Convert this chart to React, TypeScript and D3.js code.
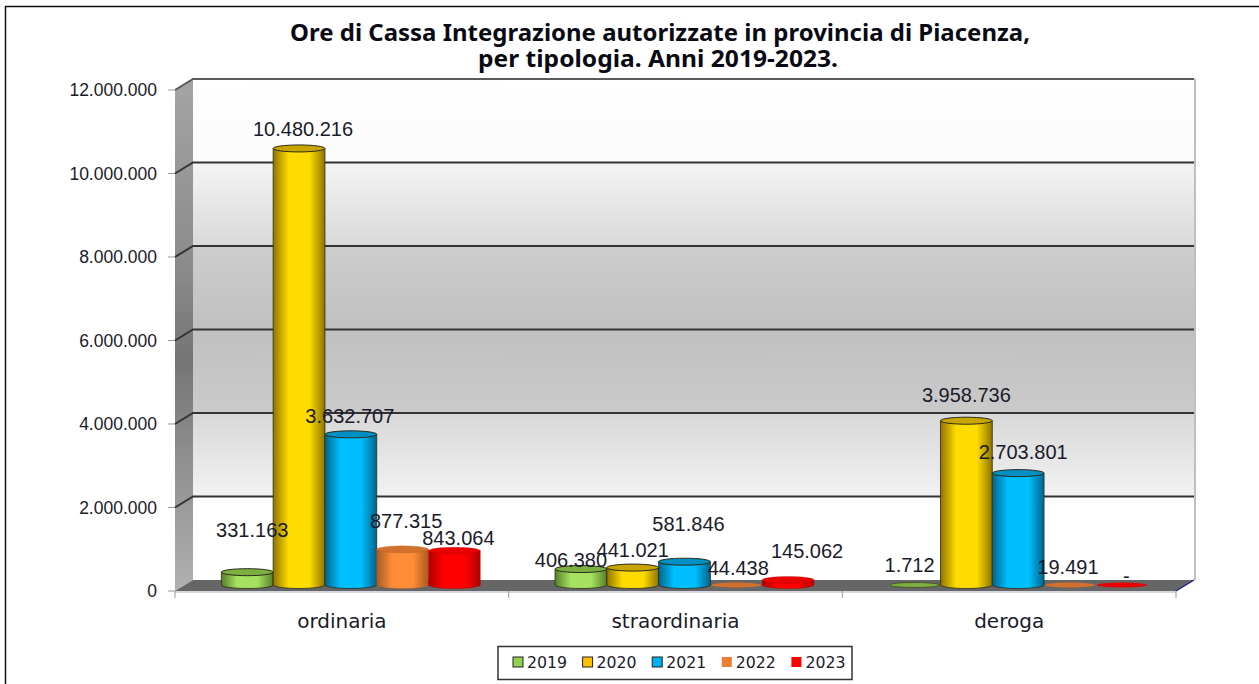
import React from 'react';
import * as d3 from 'd3';

const categories = ['ordinaria', 'straordinaria', 'deroga'];
const years = ['2019', '2020', '2021', '2022', '2023'];
const s2019 = [331163, 406380, 1712];
const s2020 = [10480216, 441021, 3958736];
const s2021 = [3632707, 581846, 2703801];
const s2022 = [877315, 44438, 19491];
const s2023 = [843064, 145062, 0];
const seriesValues = [s2019, s2020, s2021, s2022, s2023];
const yTicks = [0, 2000000, 4000000, 6000000, 8000000, 10000000, 12000000];
const titleLines = ['Ore di Cassa Integrazione autorizzate in provincia di Piacenza,', 'per tipologia. Anni 2019-2023.'];

// styling per series
const centerCol = ['#a6e25f', '#ffdc00', '#00bfff', '#ff8d38', '#ff0000'];
const edgeCol = ['#567f28', '#8f7400', '#00658c', '#a85a22', '#b00000'];
const topCol = ['#7dae40', '#c9a400', '#0090c4', '#d2702c', '#e80000'];
const legendCol = ['#92d050', '#ffc000', '#00b0f0', '#ed7d31', '#ff0000'];
const outlined = [true, true, true, false, false];
// manual placement of the value labels, relative to bar centre and top
const labelDx = [[5, -10, -5], [4, 0, 0], [-1, 4, 5], [3.5, 2, -2], [4, 19, 4.5]];
const labelDy = [[-41, -8, -20], [-18, -17, -25], [-17, -37, -20], [-27, -15, -17], [-12, -28, -9]];

const fmt = (v: number) => d3.format(',')(v).replace(/,/g, '.');

const L = 175, R = 1176, DX = 18, DY = 11;
const Y0 = 591, Y1 = 90;
const RY = 3.5;

const bands = [
  ['#ffffff', '#fbfbfb'],
  ['#f4f4f4', '#d9d9d9'],
  ['#cdcdcd', '#c0c0c0'],
  ['#c0c0c0', '#cacaca'],
  ['#d8d8d8', '#f2f2f2'],
  ['#ffffff', '#ffffff'],
];

export default function App() {
  const y = d3.scaleLinear().domain([0, 12000000]).range([Y0, Y1]);
  const x0 = d3.scaleBand().domain(categories).range([L, R]).paddingInner(0.224).paddingOuter(0.112);
  const x1 = d3.scaleBand().domain(years).range([0, x0.bandwidth()]);
  const bw = x1.bandwidth();
  const barShift = 9;
  const depthY = 5;
  const wallTicks = [...yTicks].reverse();

  return (
    <svg width={1259} height={684} style={{ position: 'absolute', left: 0, top: 0, background: '#fff' }}>
      <defs>
        {bands.map((b, i) => (
          <linearGradient key={i} id={`band${i}`} x1="0" y1="0" x2="0" y2="1">
            <stop offset="0" stopColor={b[0]} />
            <stop offset="1" stopColor={b[1]} />
          </linearGradient>
        ))}
        <linearGradient id="side" x1="0" y1="0" x2="0" y2="1">
          <stop offset="0" stopColor="#a4a4a4" />
          <stop offset="0.35" stopColor="#8c8c8c" />
          <stop offset="0.55" stopColor="#757575" />
          <stop offset="0.75" stopColor="#909090" />
          <stop offset="1" stopColor="#b0b0b0" />
        </linearGradient>
        {years.map((yr, i) => (
          <linearGradient key={yr} id={`cyl${i}`} x1="0" y1="0" x2="1" y2="0">
            <stop offset="0" stopColor={edgeCol[i]} />
            <stop offset="0.3" stopColor={centerCol[i]} />
            <stop offset="0.7" stopColor={centerCol[i]} />
            <stop offset="1" stopColor={edgeCol[i]} />
          </linearGradient>
        ))}
      </defs>

      {/* outer frame */}
      <path d="M5.5 684V6.5H1259" fill="none" stroke="#111" strokeWidth={1.5} />

      {/* back wall */}
      {bands.map((_, i) => {
        const t = y(wallTicks[i]) - DY;
        const b = y(wallTicks[i + 1]) - DY;
        return <rect key={i} x={L + DX} y={t} width={R - L} height={b - t} fill={`url(#band${i})`} />;
      })}
      <line x1={R + DX + 1} x2={R + DX + 1} y1={Y1 - DY} y2={Y0 - DY} stroke="#aaa" strokeWidth={1.5} />

      {/* left wall */}
      <path d={`M${L} ${Y1}L${L + DX} ${Y1 - DY}V${Y0 - DY}L${L} ${Y0}Z`} fill="url(#side)" />

      {/* grid lines */}
      {yTicks.slice(1).map((t) => (
        <path
          key={t}
          d={`M${L} ${y(t)}L${L + DX} ${y(t) - DY}H${R + DX}`}
          fill="none"
          stroke={t === 12000000 ? '#5a5a5a' : '#333'}
          strokeWidth={2}
        />
      ))}

      {/* floor */}
      <path d={`M${L} ${Y0}L${L + DX} ${Y0 - DY}H${R + DX}L${R} ${Y0}Z`} fill="#666" />
      <line x1={R} x2={R + DX} y1={Y0} y2={Y0 - DY} stroke="#1a1a9a" strokeWidth={1.3} />
      <line x1={L} x2={R} y1={Y0 + 1} y2={Y0 + 1} stroke="#c9c9d6" strokeWidth={1.5} />

      {/* ticks */}
      {yTicks.map((t) => (
        <g key={t}>
          <line x1={L - 7} x2={L} y1={y(t)} y2={y(t)} stroke="#999" />
          <text x={L - 18} y={y(t) + 6} textAnchor="end" fontFamily="'Liberation Sans', Arial, sans-serif" fontSize={17.5} fill="#1a1a2a">
            {fmt(t)}
          </text>
        </g>
      ))}
      {[0, 1, 2, 3].map((i) => {
        const px = L + (i * (R - L)) / 3;
        return <line key={i} x1={px} x2={px} y1={Y0} y2={Y0 + 7} stroke="#999" />;
      })}

      {/* bars */}
      {categories.map((c, ci) =>
        years.map((yr, si) => {
          const v = seriesValues[si][ci];
          const left = (x0(c) as number) + barShift + (x1(yr) as number);
          const cx = left + bw / 2;
          const base = y(0) - depthY - 1;
          const top = y(v) - depthY;
          const rx = bw / 2;
          const flat = top > base - 2;
          const stroke = outlined[si] ? '#2a2a1a' : edgeCol[si];
          return (
            <g key={c + yr}>
              {flat ? (
                <ellipse cx={cx} cy={base} rx={rx - 1} ry={2.5} fill={topCol[si]} stroke={si === 0 ? '#3c4c20' : 'none'} strokeWidth={0.8} />
              ) : (
                <>
                  <path
                    d={`M${left} ${top}V${base}A${rx} ${RY} 0 0 0 ${left + bw} ${base}V${top}Z`}
                    fill={`url(#cyl${si})`}
                    stroke={stroke}
                    strokeWidth={outlined[si] ? 0.8 : 0.4}
                  />
                  <ellipse cx={cx} cy={top} rx={rx} ry={RY} fill={topCol[si]} stroke={stroke} strokeWidth={outlined[si] ? 1 : 0.3} />
                </>
              )}
            </g>
          );
        }),
      )}

      {/* value labels */}
      {categories.map((c, ci) =>
        years.map((yr, si) => {
          const v = seriesValues[si][ci];
          const cx = (x0(c) as number) + barShift + (x1(yr) as number) + bw / 2;
          return (
            <text
              key={c + yr}
              x={cx + labelDx[si][ci]}
              y={y(v) - depthY + labelDy[si][ci] + 6}
              textAnchor="middle"
              fontFamily="'Liberation Sans', Arial, sans-serif"
              fontSize={20}
              fill="#1a1a2a"
            >
              {v === 0 ? '-' : fmt(v)}
            </text>
          );
        }),
      )}

      {/* category labels */}
      {categories.map((c) => (
        <text
          key={c}
          x={(x0(c) as number) + x0.bandwidth() / 2}
          y={628}
          textAnchor="middle"
          fontFamily="'DejaVu Sans', sans-serif"
          fontSize={20}
          fill="#1a1a2a"
        >
          {c}
        </text>
      ))}

      {/* title */}
      {titleLines.map((t, i) => (
        <text
          key={t}
          x={i === 0 ? 660 : 658}
          y={41 + i * 26}
          textAnchor="middle"
          fontFamily="'Noto Sans', sans-serif"
          fontWeight="bold"
          fontSize={23}
          fill="#0a0a14"
          textLength={i === 0 ? 740 : 360}
          lengthAdjust="spacingAndGlyphs"
        >
          {t}
        </text>
      ))}

      {/* legend */}
      <rect x={498} y={646.5} width={354} height={33} fill="#fff" stroke="#333" strokeWidth={1.5} />
      {years.map((yr, i) => {
        const lx = 513 + i * 69.6;
        return (
          <g key={yr}>
            <rect x={lx} y={657} width={10} height={10} fill={legendCol[i]} stroke={outlined[i] ? '#222' : 'none'} strokeWidth={1} />
            <text x={lx + 14} y={668} fontFamily="'DejaVu Sans', sans-serif" fontSize={16} fill="#1a1a2a" textLength={40} lengthAdjust="spacingAndGlyphs">
              {yr}
            </text>
          </g>
        );
      })}
    </svg>
  );
}
